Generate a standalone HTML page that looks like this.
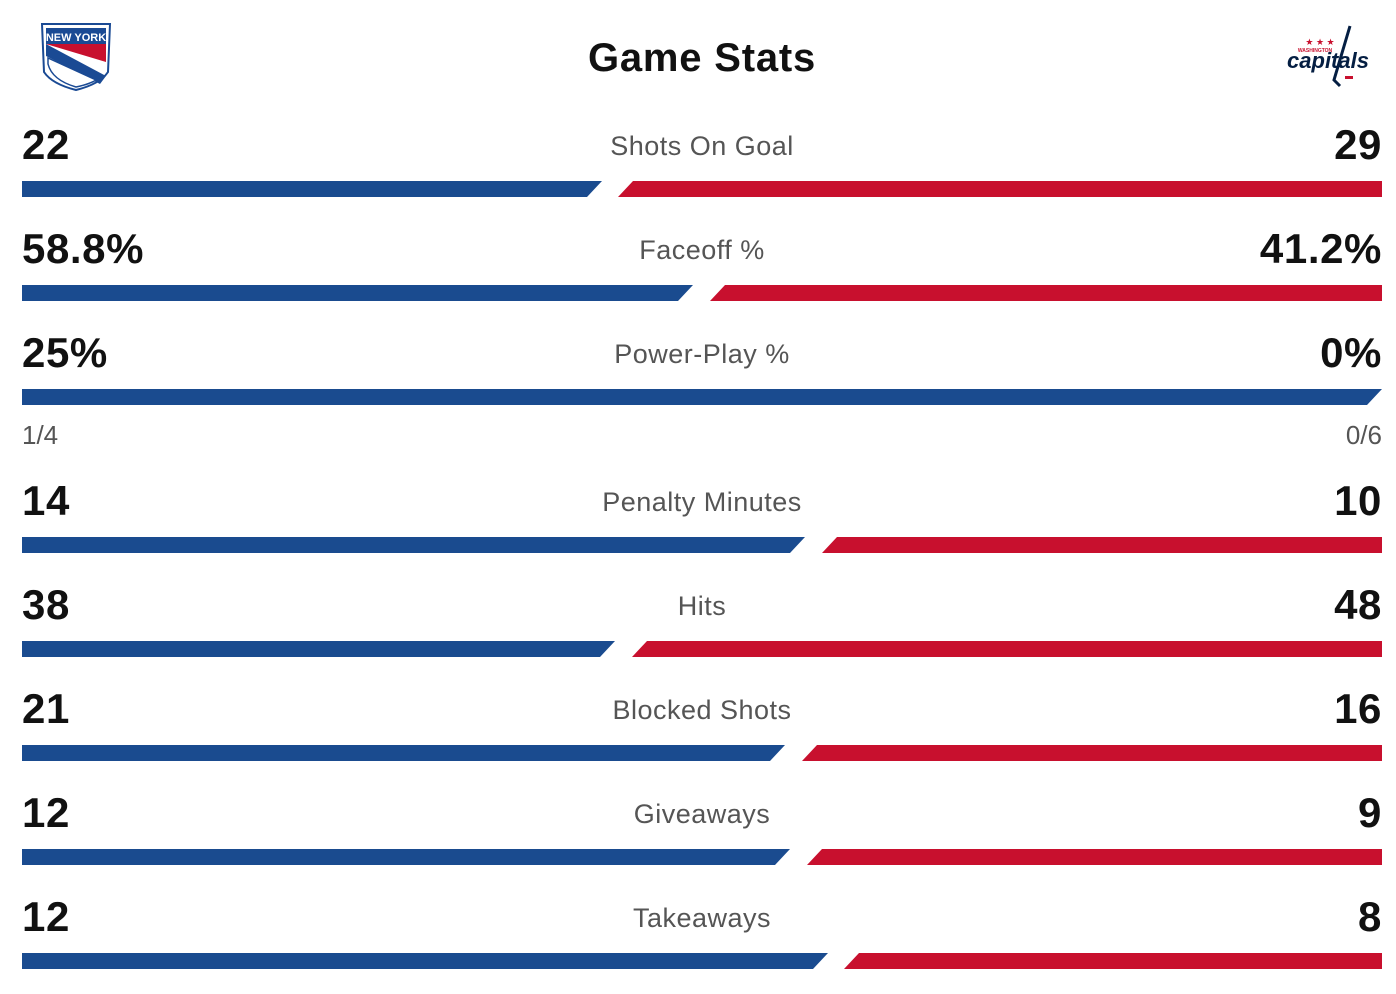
<!DOCTYPE html>
<html><head><meta charset="utf-8"><style>
body{margin:0;background:#fff;}
svg{display:block;font-family:"Liberation Sans",sans-serif;}
.n{font-size:42px;font-weight:bold;fill:#111;letter-spacing:0.6px;}
.l{font-size:27px;fill:#555;letter-spacing:0.5px;}
.s{font-size:26px;fill:#555;}
</style></head><body>
<svg width="1396" height="994" viewBox="0 0 1396 994">
<g>
<path d="M42,24 L110,24 L108,72 Q100,84 76,90 Q52,84 44,72 Z" fill="#fff" stroke="#1a4a94" stroke-width="2"/>
<path d="M46,28 L106,28 L106,44 L46,44 Z" fill="#1a4a94"/>
<text x="76" y="41" font-size="11" font-weight="bold" fill="#fff" text-anchor="middle">NEW YORK</text>
<path d="M46,44 L106,44 L106,62 Z" fill="#c8102e"/>
<path d="M46,44 L46,56 L100,84 L106,76 Z" fill="#1a4a94"/>
<path d="M48,64 Q52,80 76,87 Q90,84 96,80 L48,58 Z" fill="#fff" stroke="#1a4a94" stroke-width="1.5"/>
</g>
<g>
<text x="1320" y="45" font-size="9" fill="#c8102e" text-anchor="middle">★ ★ ★</text>
<text x="1315" y="52" font-size="5" fill="#c8102e" text-anchor="middle" font-weight="bold">WASHINGTON</text>
<text x="1328" y="68" font-size="22" font-style="italic" font-weight="bold" fill="#041e42" text-anchor="middle">capitals</text>
<path d="M1350,26 L1334,80 L1340,86" stroke="#041e42" stroke-width="3" fill="none"/>
<rect x="1345" y="76" width="8" height="3" fill="#c8102e"/>
</g>
<text x="702" y="71" font-size="40" font-weight="bold" fill="#111" text-anchor="middle" letter-spacing="0.8">Game Stats</text>

<g>
<text class="n" x="22" y="159">22</text><text class="l" x="702" y="155" text-anchor="middle">Shots On Goal</text><text class="n" x="1382" y="159" text-anchor="end">29</text>
<polygon points="22,181 602,181 587,197 22,197" fill="#1a4b8f"/><polygon points="633,181 1382,181 1382,197 618,197" fill="#c8102e"/>

<text class="n" x="22" y="263">58.8%</text><text class="l" x="702" y="259" text-anchor="middle">Faceoff %</text><text class="n" x="1382" y="263" text-anchor="end">41.2%</text>
<polygon points="22,285 693,285 678,301 22,301" fill="#1a4b8f"/><polygon points="725,285 1382,285 1382,301 710,301" fill="#c8102e"/>

<text class="n" x="22" y="367">25%</text><text class="l" x="702" y="363" text-anchor="middle">Power-Play %</text><text class="n" x="1382" y="367" text-anchor="end">0%</text>
<polygon points="22,389 1382,389 1367,405 22,405" fill="#1a4b8f"/>
<text class="s" x="22" y="444">1/4</text><text class="s" x="1382" y="444" text-anchor="end">0/6</text>

<text class="n" x="22" y="515">14</text><text class="l" x="702" y="511" text-anchor="middle">Penalty Minutes</text><text class="n" x="1382" y="515" text-anchor="end">10</text>
<polygon points="22,537 805,537 790,553 22,553" fill="#1a4b8f"/><polygon points="837,537 1382,537 1382,553 822,553" fill="#c8102e"/>

<text class="n" x="22" y="619">38</text><text class="l" x="702" y="615" text-anchor="middle">Hits</text><text class="n" x="1382" y="619" text-anchor="end">48</text>
<polygon points="22,641 615,641 600,657 22,657" fill="#1a4b8f"/><polygon points="647,641 1382,641 1382,657 632,657" fill="#c8102e"/>

<text class="n" x="22" y="723">21</text><text class="l" x="702" y="719" text-anchor="middle">Blocked Shots</text><text class="n" x="1382" y="723" text-anchor="end">16</text>
<polygon points="22,745 785,745 770,761 22,761" fill="#1a4b8f"/><polygon points="817,745 1382,745 1382,761 802,761" fill="#c8102e"/>

<text class="n" x="22" y="827">12</text><text class="l" x="702" y="823" text-anchor="middle">Giveaways</text><text class="n" x="1382" y="827" text-anchor="end">9</text>
<polygon points="22,849 790,849 775,865 22,865" fill="#1a4b8f"/><polygon points="822,849 1382,849 1382,865 807,865" fill="#c8102e"/>

<text class="n" x="22" y="931">12</text><text class="l" x="702" y="927" text-anchor="middle">Takeaways</text><text class="n" x="1382" y="931" text-anchor="end">8</text>
<polygon points="22,953 828,953 813,969 22,969" fill="#1a4b8f"/><polygon points="859,953 1382,953 1382,969 844,969" fill="#c8102e"/>
</g>
</svg>
</body></html>
